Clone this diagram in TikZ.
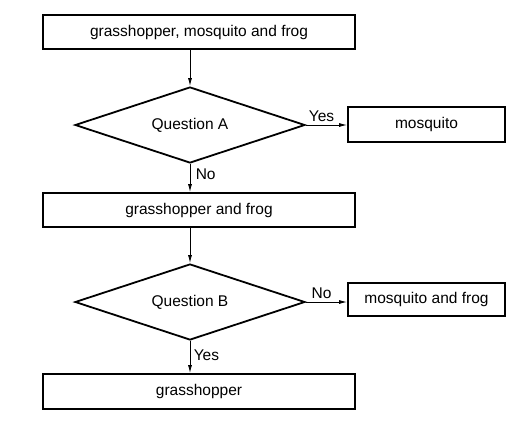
\documentclass[tikz,border=0pt]{standalone}
\usepackage{fontspec}
\setmainfont{Liberation Sans}
\usetikzlibrary{shapes.geometric, arrows.meta, positioning}

\begin{document}
\begin{tikzpicture}[x=1pt, y=-1pt,
  font=\fontsize{15.5pt}{18pt}\selectfont,
  box/.style={draw, line width=1.8pt, minimum height=34pt, inner sep=0pt},
  widebox/.style={box, minimum width=312pt},
  smallbox/.style={box, minimum width=157pt},
  ask/.style={draw, diamond, aspect=3, line width=1.8pt, minimum width=230pt, minimum height=76pt, inner sep=0pt},
  flow/.style={-{Latex[length=8pt,width=4pt]}, line width=0.9pt}]
  \useasboundingbox (0,0) rectangle (522,424);

  % sets and questions
  \node[widebox] (all) at (199,32) {grasshopper, mosquito and frog};
  \node[ask] (qa) at (190,125) {Question A};
  \node[smallbox, minimum height=35pt] (mosq) at (426.5,124.5) {mosquito};
  \node[widebox] (gf) at (199,210) {grasshopper and frog};
  \node[ask] (qb) at (190,302) {Question B};
  \node[smallbox, minimum height=33pt] (mf) at (426.5,299.5) {mosquito and frog};
  \node[widebox, minimum height=35pt] (gh) at (199,391.5) {grasshopper};

  % connectors
  \draw[flow] (all.south -| qa) -- (qa.north);
  \draw[flow] (qa.east) -- node[above, pos=0.38] {Yes} (mosq.west |- qa.east);
  \draw[flow] (qa.south) -- node[right, pos=0.35, xshift=2pt] {No} (gf.north -| qa);
  \draw[flow] (gf.south -| qb) -- (qb.north);
  \draw[flow] (qb.east) -- node[above, pos=0.38] {No} (mf.west |- qb.east);
  \draw[flow] (qb.south) -- node[right, pos=0.45] {Yes} (gh.north -| qb);
\end{tikzpicture}
\end{document}
